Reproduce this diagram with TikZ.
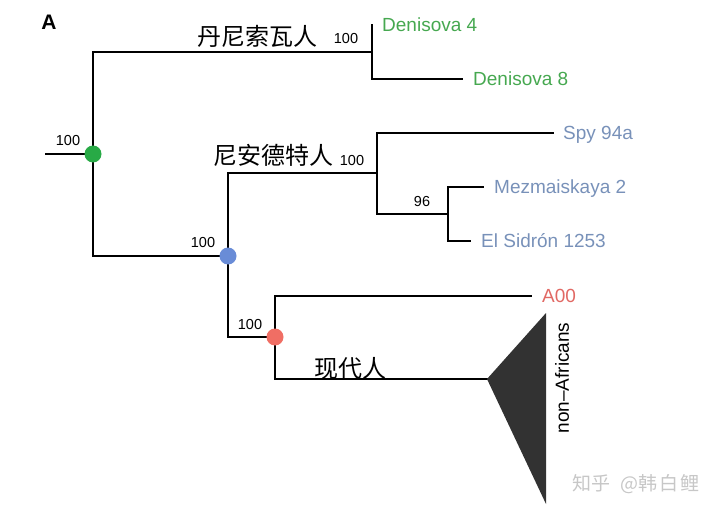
\documentclass[tikz,border=0pt]{standalone}
\usepackage{fontspec}
\setmainfont{Liberation Sans}
\newfontfamily\cjk{Noto Sans CJK SC}
\usepackage{xcolor}
\usetikzlibrary{positioning}

\definecolor{denigreen}{RGB}{70,168,80}
\definecolor{dotgreen}{RGB}{40,170,70}
\definecolor{neablue}{RGB}{120,145,185}
\definecolor{dotblue}{RGB}{105,140,215}
\definecolor{modred}{RGB}{225,105,100}
\definecolor{dotred}{RGB}{240,110,100}
\definecolor{cladegray}{RGB}{50,50,50}

\tikzset{
  branch/.style={line width=2.6pt, line cap=rect},
  tip/.style={font=\fontsize{19}{19}\selectfont, text height=13.7pt, text depth=0pt, anchor=west, inner sep=0pt},
  boot/.style={font=\fontsize{14.5}{14.5}\selectfont, inner sep=0pt},
  group/.style={font=\cjk\fontsize{24}{24}\selectfont, inner sep=0pt},
  knot/.style={circle, fill=#1, minimum size=17pt, inner sep=0pt}
}

\begin{document}
\begin{tikzpicture}[x=1pt, y=-1pt]
    \useasboundingbox (0,0) rectangle (720,513);
    % panel letter
    \node[font=\bfseries\fontsize{21}{21}\selectfont, inner sep=0pt] (panel) at (49,22) {A};
    % branch points
    \coordinate (stem) at (46,154);
    \coordinate (root) at (93,154);
    \coordinate (den) at (372,52);
    \coordinate (arch) at (228,256);
    \coordinate (nea) at (377,173);
    \coordinate (mez) at (448,214);
    \coordinate (mod) at (275,337);
    % tips
    \coordinate (d4) at (372,25);
    \coordinate (d8) at (462,79);
    \coordinate (spy) at (553,133);
    \coordinate (mz) at (483,187);
    \coordinate (els) at (470,241);
    \coordinate (a00) at (531,296);
    \coordinate (apex) at (487,379);
    \coordinate (triTop) at (546,313);
    \coordinate (triBot) at (546,504);
    % tree
    \draw[branch] (stem) -- (root);
    \draw[branch] (root) |- (den);
    \draw[branch] (root) |- (arch);
    \draw[branch] (den) -- (d4);
    \draw[branch] (den) |- (d8);
    \draw[branch] (arch) |- (nea);
    \draw[branch] (arch) |- (mod);
    \draw[branch] (nea) |- (spy);
    \draw[branch] (nea) |- (mez);
    \draw[branch] (mez) |- (mz);
    \draw[branch] (mez) |- (els);
    \draw[branch] (mod) |- (a00);
    \draw[branch] (mod) |- (apex);
    % collapsed clade
    \fill[cladegray] (apex) -- (triTop) -- (triBot) -- cycle;
    % coloured nodes
    \node[knot=dotgreen] (rootdot) at (root) {};
    \node[knot=dotblue] (archdot) at (arch) {};
    \node[knot=dotred] (moddot) at (mod) {};
    % tip labels
    \node[tip, denigreen, right=10pt of d4] (ld4) {Denisova 4};
    \node[tip, denigreen, right=11pt of d8] (ld8) {Denisova 8};
    \node[tip, neablue, right=10pt of spy] (lspy) {Spy 94a};
    \node[tip, neablue, right=11pt of mz] (lmz) {Mezmaiskaya 2};
    \node[tip, neablue, right=11pt of els] (lels) {El Sidrón 1253};
    \node[tip, modred, right=11pt of a00] (la00) {A00};
    \node[font=\fontsize{19}{19}\selectfont, inner sep=0pt, rotate=90] (naf) at (562,378) {non–Africans};
    % support values
    \node[boot] (broot) at (68,141) {100};
    \node[boot] (bden) at (346,39) {100};
    \node[boot] (barch) at (203,243) {100};
    \node[boot] (bnea) at (352,161) {100};
    \node[boot] (bmez) at (422,202) {96};
    \node[boot] (bmod) at (250,325) {100};
    % group names
    \node[group] (gden) at (257,36) {丹尼索瓦人};
    \node[group] (gnea) at (273,155) {尼安德特人};
    \node[group] (gmod) at (350,368) {现代人};
    % watermark
    \node[font=\cjk\fontsize{19}{19}\selectfont, black!22, inner sep=0pt] (mark) at (636,484)
      {知乎\hspace{10pt}@韩\hspace{2pt}白\hspace{2pt}鲤};
\end{tikzpicture}
\end{document}
